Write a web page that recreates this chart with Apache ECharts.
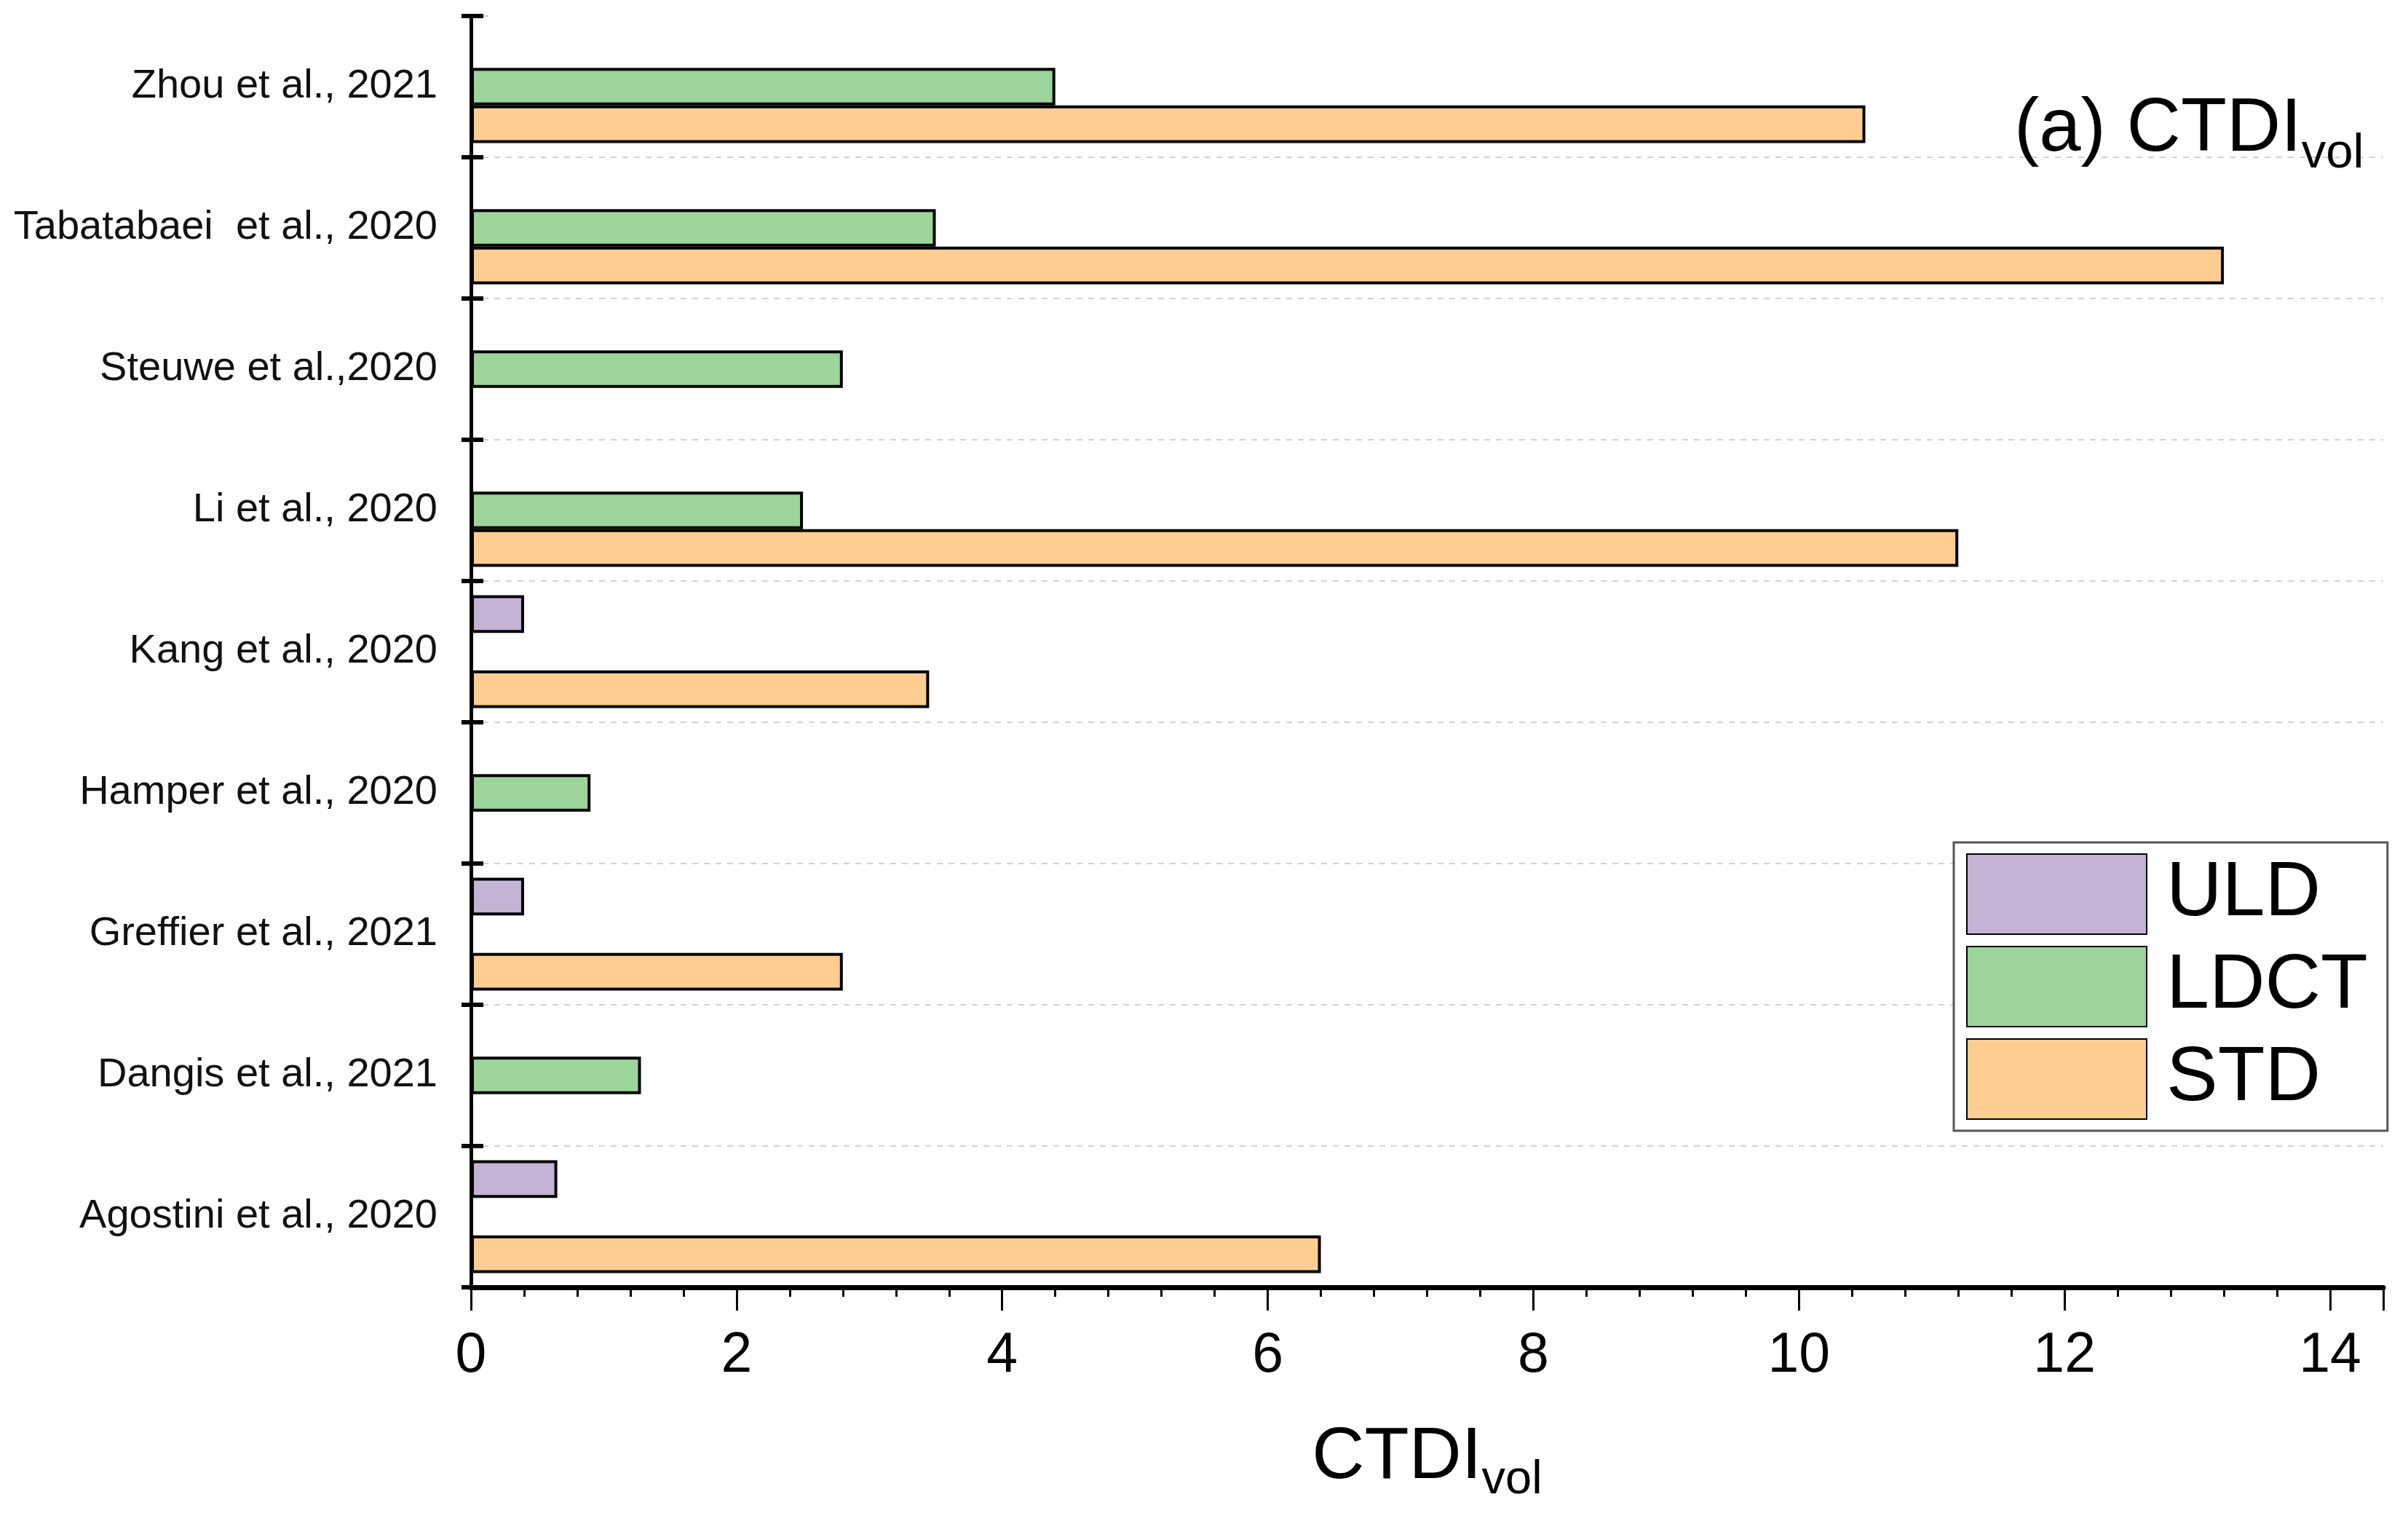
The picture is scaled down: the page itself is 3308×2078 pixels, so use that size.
<!DOCTYPE html>
<html>
<head>
<meta charset="utf-8">
<script src="https://cdn.jsdelivr.net/npm/echarts@6/dist/echarts.min.js"></script>
<style>
html,body{margin:0;padding:0;background:#fff;}
#main{width:3308px;height:2078px;}
</style>
</head>
<body>
<div id="main"></div>
<script>
const categories = ['Agostini et al., 2020', 'Dangis et al., 2021', 'Greffier et al., 2021', 'Hamper et al., 2020', 'Kang et al., 2020', 'Li et al., 2020', 'Steuwe et al.,2020', 'Tabatabaei  et al., 2020', 'Zhou et al., 2021'];
const seriesNames = ['ULD', 'LDCT', 'STD'];
const uldValues = [0.65, null, 0.4, null, 0.4, null, null, null, null];
const ldctValues = [null, 1.28, null, 0.9, null, 2.5, 2.8, 3.5, 4.4];
const stdValues = [6.4, null, 2.8, null, 3.45, 11.2, null, 13.2, 10.5];
const xTicks = [0, 2, 4, 6, 8, 10, 12, 14];

const colors = ['#C5B3D6', '#9CD59A', '#FDCD92'];
const FONT = 'Liberation Sans, Arial, sans-serif';

const chart = echarts.init(document.getElementById('main'), null, {renderer: 'canvas'});

function mkSeries(name, data, color) {
  return {
    name: name,
    type: 'bar',
    data: data,
    barGap: '0%',
    barCategoryGap: '20%',
    itemStyle: {color: color, borderColor: '#000', borderWidth: 4},
    emphasis: {disabled: true}
  };
}

const option = {
  animation: false,
  backgroundColor: '#fff',
  textStyle: {fontFamily: FONT},
  title: {
    text: '{m|(a) CTDI}{s|vol}',
    left: 2762,
    top: 122,
    textStyle: {
      fontWeight: 'normal',
      rich: {
        m: {fontSize: 103, fontFamily: FONT, fontWeight: 'normal', color: '#000', lineHeight: 118, verticalAlign: 'top'},
        s: {fontSize: 67, fontFamily: FONT, fontWeight: 'normal', color: '#000', lineHeight: 67, verticalAlign: 'bottom'}
      }
    }
  },
  legend: {
    orient: 'vertical',
    left: 2684,
    top: 1157,
    data: seriesNames,
    itemWidth: 247,
    itemHeight: 110,
    itemGap: 15,
    icon: 'rect',
    padding: [15, 27, 15, 17],
    borderColor: '#555',
    borderWidth: 3,
    borderRadius: 0,
    backgroundColor: '#fff',
    selectedMode: false,
    textStyle: {fontSize: 106, color: '#000', fontFamily: FONT, padding: [0, 0, 0, 22]}
  },
  graphic: [
    {
      type: 'rect',
      z: 1,
      silent: true,
      shape: {x: 672, y: 17, width: 2620, height: 10},
      style: {fill: '#fff'}
    }
  ],
  grid: {left: 647, right: 34, top: 22, bottom: 310, containLabel: false},
  xAxis: {
    type: 'value',
    min: 0,
    max: 14.4,
    interval: 2,
    name: '{m|CTDI}{s|vol}',
    nameLocation: 'middle',
    nameGap: 184,
    nameTextStyle: {
      rich: {
        m: {fontSize: 100, fontFamily: FONT, color: '#000', lineHeight: 114, verticalAlign: 'top'},
        s: {fontSize: 65, fontFamily: FONT, color: '#000', lineHeight: 65, verticalAlign: 'bottom'}
      }
    },
    axisLine: {show: true, onZero: false, lineStyle: {color: '#000', width: 7}},
    axisTick: {show: true, inside: false, length: 32, lineStyle: {color: '#000', width: 3}},
    minorTick: {show: true, splitNumber: 5, length: 13, lineStyle: {color: '#000', width: 3}},
    axisLabel: {
      fontSize: 77, color: '#000', fontFamily: FONT, margin: 56, showMaxLabel: false,
      formatter: function (v) { return xTicks.indexOf(v) >= 0 ? String(v) : ''; }
    },
    splitLine: {show: false},
    minorSplitLine: {show: false}
  },
  yAxis: [
    {
      type: 'category',
      data: categories,
      position: 'left',
      axisLine: {show: true, lineStyle: {color: '#000', width: 5}},
      axisTick: {show: true, inside: false, length: 13, lineStyle: {color: '#000', width: 6}},
      axisLabel: {fontSize: 56, color: '#111', fontFamily: FONT, margin: 46},
      splitLine: {show: true, lineStyle: {color: '#d2d2d2', width: 2, type: [8, 8]}}
    },
    {
      type: 'category',
      data: categories,
      position: 'left',
      axisLine: {show: false},
      axisTick: {show: true, inside: true, length: 17, lineStyle: {color: '#000', width: 6}},
      axisLabel: {show: false},
      splitLine: {show: false}
    }
  ],
  series: [
    mkSeries(seriesNames[0], uldValues, colors[0]),
    mkSeries(seriesNames[1], ldctValues, colors[1]),
    mkSeries(seriesNames[2], stdValues, colors[2])
  ]
};
chart.setOption(option);
</script>
</body>
</html>
